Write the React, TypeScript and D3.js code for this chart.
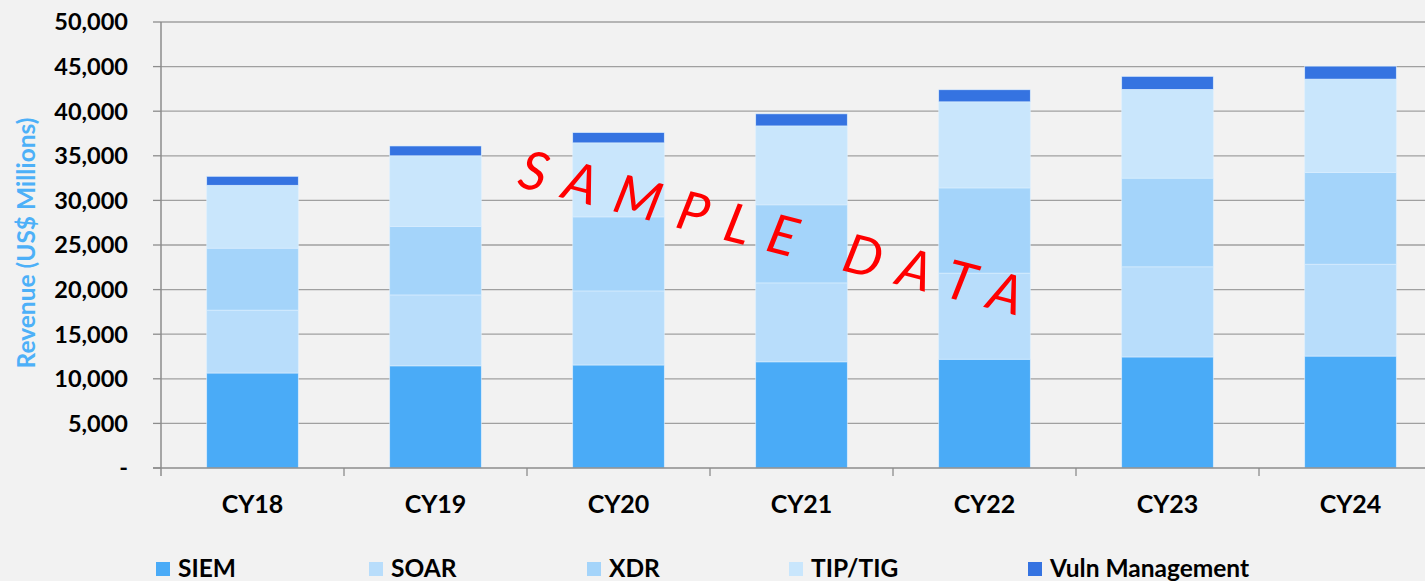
import React, { useEffect } from "react"
import * as d3 from "d3"

// data (US$ millions)
const years = ["CY18", "CY19", "CY20", "CY21", "CY22", "CY23", "CY24"]
const seriesNames = ["SIEM", "SOAR", "XDR", "TIP/TIG", "Vuln Management"]
const siem = [10650, 11450, 11550, 11900, 12200, 12450, 12550]
const soar = [7050, 7950, 8300, 8850, 9650, 10100, 10300]
const xdr = [6950, 7700, 8300, 8750, 9550, 9950, 10300]
const tip = [7050, 7900, 8300, 8850, 9650, 9950, 10450]
const vuln = [1000, 1100, 1150, 1350, 1350, 1450, 1450]
const yTicks = [0, 5000, 10000, 15000, 20000, 25000, 30000, 35000, 40000, 45000, 50000]

const colors = ["#4aabf7", "#b8ddfb", "#a4d4fa", "#c9e6fc", "#3573e1"]
const legendX = [156, 369, 587, 789, 1028]

const W = 1425
const H = 581
const font = "Lato, 'Open Sans', sans-serif"

export default function App() {
    useEffect(() => {
        document.body.style.margin = "0"
        document.body.style.background = "#f2f2f2"
    }, [])

    const rows = years.map((y, i) => ({
        year: y,
        SIEM: siem[i],
        SOAR: soar[i],
        XDR: xdr[i],
        "TIP/TIG": tip[i],
        "Vuln Management": vuln[i],
    }))

    const stack = d3.stack<any>().keys(seriesNames)
    const layers = stack(rows)

    const x = d3.scaleBand().domain(years).range([161, 1442]).paddingInner(0.5).paddingOuter(0.25)
    const y = d3.scaleLinear().domain([0, 50000]).range([468, 22])
    const fmt = d3.format(",")
    const step = x.step()

    return (
        <svg width={W} height={H} style={{ display: "block", background: "#f2f2f2" }} fontFamily={font}>
            {/* gridlines */}
            {yTicks.map(t => (
                <g key={t}>
                    {t > 0 && <line x1={161} x2={W} y1={y(t)} y2={y(t)} stroke="#a0a0a0" strokeWidth={1.3} />}
                    <line x1={153} x2={161} y1={y(t)} y2={y(t)} stroke="#8c8c8c" strokeWidth={1.3} />
                    <text x={128} y={y(t)} dy="0.36em" textAnchor="end" fontSize={23.5} fontWeight="bold" fill="#000">
                        {t === 0 ? "-" : fmt(t)}
                    </text>
                </g>
            ))}

            {/* bars */}
            {layers.map((layer, si) => (
                <g key={layer.key} fill={colors[si]}>
                    {layer.map((d, i) => (
                        <rect key={i}
                            x={x(years[i])}
                            y={y(d[1])}
                            width={x.bandwidth()}
                            height={y(d[0]) - y(d[1])}
                            stroke="#dcefff"
                            strokeWidth={0.6}
                        />
                    ))}
                </g>
            ))}

            {/* axes */}
            <line x1={161} x2={161} y1={y(50000)} y2={y(0) + 8} stroke="#8c8c8c" strokeWidth={1.5} />
            <line x1={153} x2={W} y1={y(0)} y2={y(0)} stroke="#8c8c8c" strokeWidth={1.5} />
            {years.map((yr, i) => (
                <g key={yr}>
                    <line x1={x(yr)! - step * 0.25 + step} x2={x(yr)! - step * 0.25 + step} y1={y(0)} y2={y(0) + 8} stroke="#8c8c8c" strokeWidth={1.3} />
                    <text x={x(yr)! + x.bandwidth() / 2} y={513} textAnchor="middle" fontSize={25} fontWeight="bold" fill="#000">{yr}</text>
                </g>
            ))}

            {/* y title */}
            <text transform={`translate(35,243) rotate(-90)`} textAnchor="middle" fontSize={24.5} fontWeight="bold" fill="#4db0f8">
                Revenue (US$ Millions)
            </text>

            {/* legend */}
            {seriesNames.map((s, i) => (
                <g key={s} transform={`translate(${legendX[i]},0)`}>
                    <rect x={0} y={562} width={14} height={14} fill={colors[i]} />
                    <text x={22} y={577} fontSize={24.5} fontWeight="bold" fill="#000">{s}</text>
                </g>
            ))}

            {/* watermark */}
            <text transform="translate(516,186) rotate(14.5)" fontSize={54} fontStyle="italic" fill="#ff0000" letterSpacing={18.5}>
                SAMPLE  DATA
            </text>
        </svg>
    )
}
